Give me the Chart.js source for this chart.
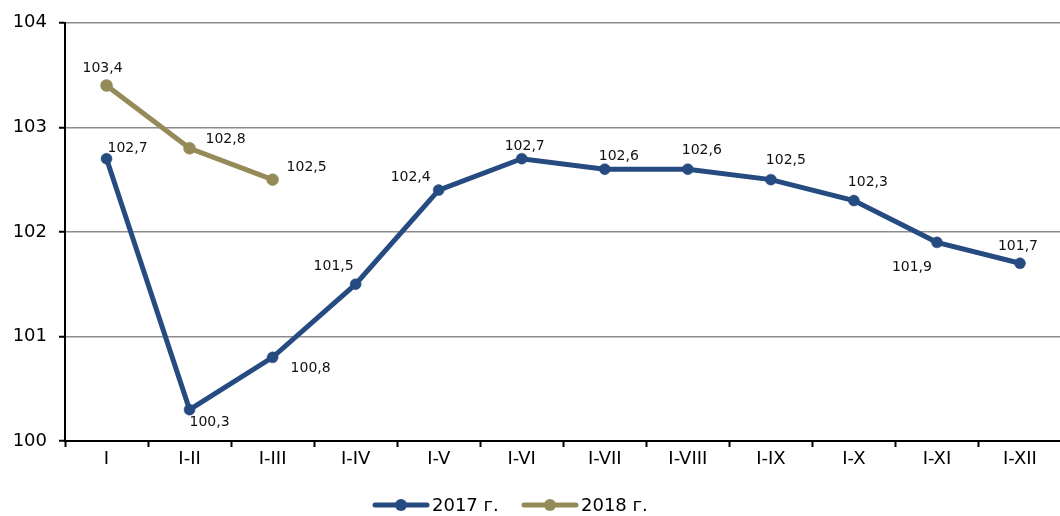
<!DOCTYPE html>
<html>
<head>
<meta charset="utf-8">
<script src="https://cdn.jsdelivr.net/npm/chart.js@4"></script>
<style>
  html, body { margin: 0; padding: 0; background: #fff; overflow: hidden; }
  #wrap { width: 1068px; height: 516px; position: relative; }
</style>
</head>
<body>
<div id="wrap"><canvas id="chart"></canvas></div>
<script>
const categories = ['I', 'I-II', 'I-III', 'I-IV', 'I-V', 'I-VI', 'I-VII', 'I-VIII', 'I-IX', 'I-X', 'I-XI', 'I-XII'];
const values2017 = [102.7, 100.3, 100.8, 101.5, 102.4, 102.7, 102.6, 102.6, 102.5, 102.3, 101.9, 101.7];
const values2018 = [103.4, 102.8, 102.5];
const seriesNames = ['2017 г.', '2018 г.'];
const yTicks = [100, 101, 102, 103, 104];

const BLUE = '#264b80';
const OLIVE = '#958b58';
const FONT = '"DejaVu Sans", Verdana, sans-serif';

// where each value label sits relative to its point (center offset, px)
const labelOffsets2017 = [[21, -10], [20, 13], [38, 11], [-22, -18], [-28, -13], [3, -12], [14, -13], [14, -19], [15, -19], [14, -18], [-25, 25], [-2, -17]];
const labelOffsets2018 = [[-4, -17], [36, -9], [34, -12]];

// legend drawn by hand: line + dot symbol, then the series name
const legendBox = {
    id: 'legendBox',
    afterDraw(chart) {
        const ctx = chart.ctx;
        const y = 505;
        const starts = [373, 522];
        ctx.save();
        ctx.font = '18px ' + FONT;
        ctx.textBaseline = 'middle';
        ctx.textAlign = 'left';
        chart.data.datasets.forEach((ds, i) => {
            const x0 = starts[i];
            ctx.strokeStyle = ds.borderColor;
            ctx.fillStyle = ds.borderColor;
            ctx.lineWidth = 5;
            ctx.lineCap = 'round';
            ctx.beginPath(); ctx.moveTo(x0 + 2, y); ctx.lineTo(x0 + 54, y); ctx.stroke();
            ctx.beginPath(); ctx.arc(x0 + 28, y, 6, 0, Math.PI * 2); ctx.fill();
            ctx.fillStyle = '#000';
            ctx.fillText(ds.label, x0 + 59, y + 1);
        });
        ctx.restore();
    }
};

const valueLabels = {
    id: 'valueLabels',
    afterDatasetsDraw(chart) {
        const ctx = chart.ctx;
        ctx.save();
        ctx.font = '14px ' + FONT;
        ctx.fillStyle = '#111';
        ctx.textAlign = 'center';
        ctx.textBaseline = 'middle';
        chart.data.datasets.forEach((ds, i) => {
            const offs = i === 0 ? labelOffsets2017 : labelOffsets2018;
            chart.getDatasetMeta(i).data.forEach((pt, j) => {
                const txt = ds.data[j].toFixed(1).replace('.', ',');
                ctx.fillText(txt, pt.x + offs[j][0], pt.y + offs[j][1]);
            });
        });
        ctx.restore();
    }
};

new Chart(document.getElementById('chart'), {
    type: 'line',
    data: {
        labels: categories,
        datasets: [
            { label: seriesNames[0], data: values2017, borderColor: BLUE, backgroundColor: BLUE, borderWidth: 5, pointRadius: 5.5, pointBorderWidth: 0.5, pointBackgroundColor: BLUE, tension: 0 },
            { label: seriesNames[1], data: values2018, borderColor: OLIVE, backgroundColor: OLIVE, borderWidth: 5, pointRadius: 6, pointBorderWidth: 0.5, pointBackgroundColor: OLIVE, tension: 0 }
        ]
    },
    options: {
        responsive: true,
        maintainAspectRatio: false,
        animation: false,
        layout: { padding: { top: 16, right: 0, left: 0, bottom: 39 } },
        plugins: {
            tooltip: { enabled: false },
            legend: { display: false }
        },
        scales: {
            x: {
                offset: true,
                afterFit: s => { s.height = 36; },
                grid: { offset: true, drawOnChartArea: false, tickLength: 6, tickColor: '#000', tickWidth: 2 },
                border: { color: '#000', width: 2 },
                ticks: { color: '#000', padding: 2, font: { family: FONT, size: 18 }, maxRotation: 0, autoSkip: false }
            },
            y: {
                min: 100,
                max: 104,
                afterFit: s => { s.width = 65; },
                afterBuildTicks: s => { s.ticks = yTicks.map(v => ({ value: v })); },
                grid: { color: '#8c8c8c', lineWidth: 1.5, tickLength: 6, tickColor: '#000', tickWidth: 2 },
                border: { color: '#000', width: 2 },
                ticks: { color: '#000', padding: 12, font: { family: FONT, size: 18 } }
            }
        }
    },
    plugins: [valueLabels, legendBox]
});
</script>
</body>
</html>
